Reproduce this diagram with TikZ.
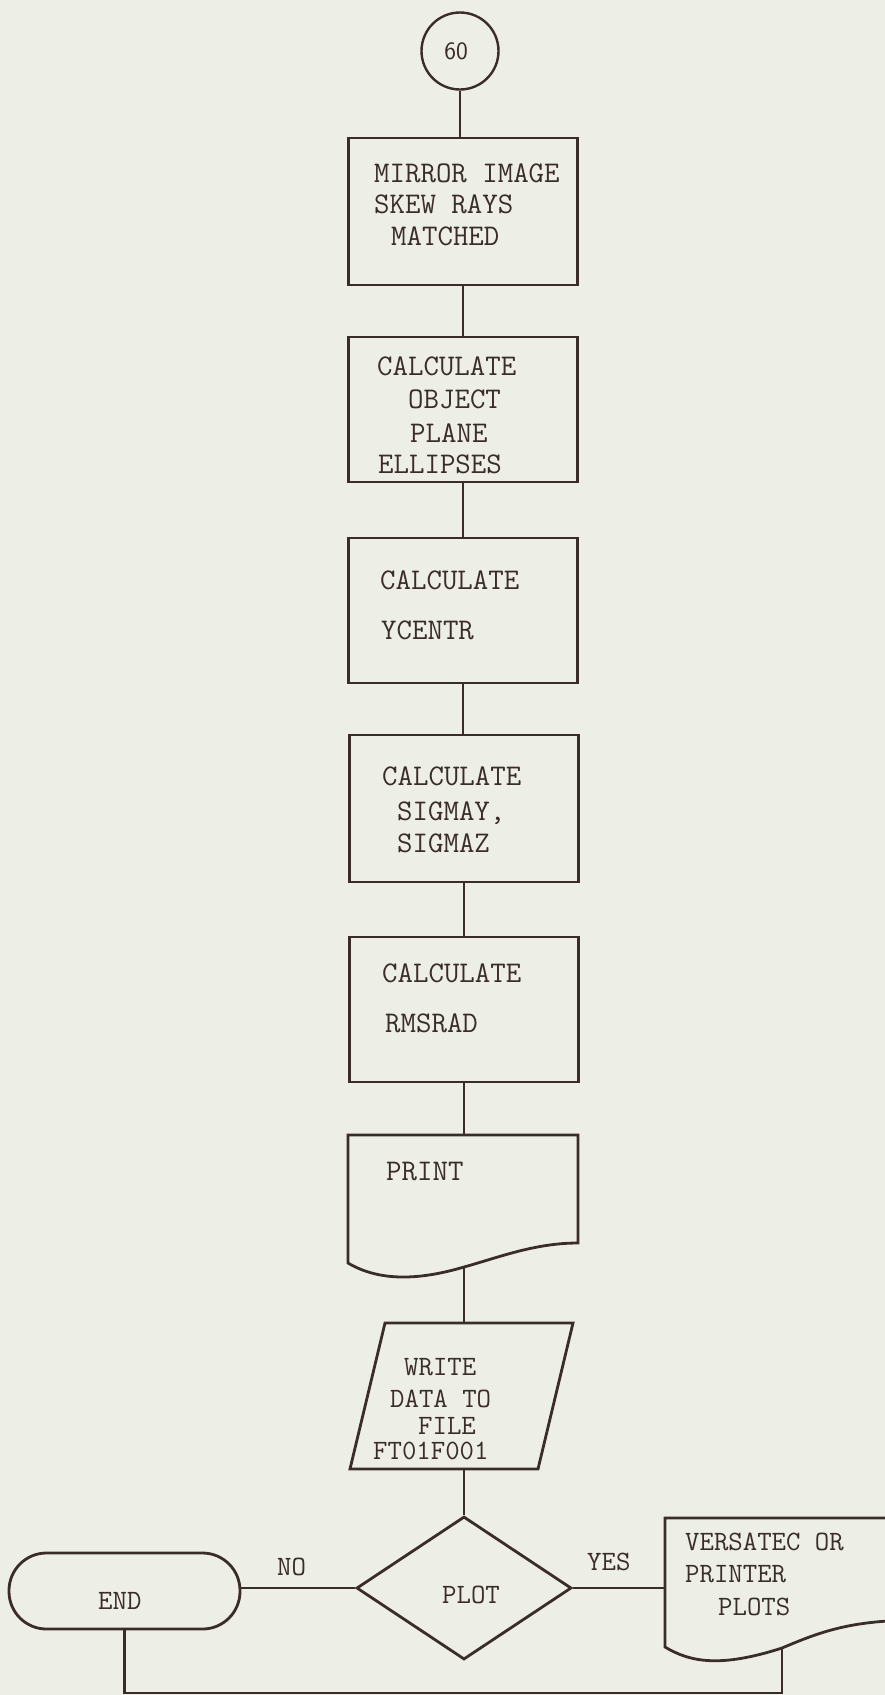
\documentclass[tikz,border=0pt]{standalone}
\usetikzlibrary{shapes.geometric}
\definecolor{bg}{HTML}{EDEEE6}
\definecolor{ink}{HTML}{3A2C2A}
\tikzset{
  box/.style={draw=ink, line width=2.8pt, rectangle, inner sep=0pt, minimum width=229pt},
  ghost/.style={rectangle, inner sep=0pt, outer sep=0pt},
  outline/.style={draw=ink, line width=2.8pt, line join=miter},
  conn/.style={draw=ink, line width=2.6pt},
  txt/.style={anchor=base west, inner sep=0pt, text=ink, font=\fontsize{30}{30}\selectfont\ttfamily},
  lbl/.style={anchor=base west, inner sep=0pt, text=ink, font=\fontsize{28}{28}\selectfont\ttfamily}
}
\begin{document}
\begin{tikzpicture}[x=1pt,y=-1pt]
\useasboundingbox (0,0) rectangle (885,1695);
\fill[bg] (0,0) rectangle (885,1695);
\clip (0,0) rectangle (885,1695);

% connector circle
\node[circle, draw=ink, line width=2.4pt, minimum size=77pt, inner sep=0pt,
      text=ink, font=\fontsize{25}{25}\selectfont\sffamily] (c60) at (460,51) {60\hspace*{8pt}};

% process boxes
\node[box, minimum height=147pt] (b1) at (463,211.5) {};
\node[box, minimum height=145pt] (b2) at (463,409.5) {};
\node[box, minimum height=145pt] (b3) at (463,610.5) {};
\node[box, minimum height=147pt] (b4) at (464,808.5) {};
\node[box, minimum height=145pt] (b5) at (464,1009.5) {};

% print document
\node[ghost, minimum width=230pt, minimum height=128pt] (prt) at (464,1199) {};
\draw[outline] (348,1263) -- (348,1135) -- (578,1135) -- (578,1243)
  .. controls (535,1243) and (500,1257) .. (464,1267)
  .. controls (420,1280) and (380,1282) .. (348,1263) -- cycle;
\coordinate (prtbot) at (464,1267);

% parallelogram
\node[ghost, minimum width=188pt, minimum height=146pt] (para) at (464,1396) {};
\draw[outline] (385,1323) -- (573,1323) -- (538,1469) -- (350,1469) -- cycle;

% decision
\node[diamond, draw=ink, line width=2.8pt, minimum width=215pt, minimum height=143pt,
      inner sep=0pt] (plot) at (464,1588) {};

% terminal
\node[rectangle, draw=ink, line width=2.8pt, rounded corners=37.5pt,
      minimum width=231pt, minimum height=76pt, inner sep=0pt] (endt) at (124.5,1591) {};

% versatec document
\node[ghost, minimum width=245pt, minimum height=129pt] (vers) at (787.5,1582.5) {};
\draw[outline] (665,1647) -- (665,1518) -- (920,1518) -- (920,1620)
  .. controls (850,1620) and (820,1632) .. (782,1648)
  .. controls (720,1668) and (690,1662) .. (665,1647) -- cycle;
\coordinate (versbot) at (782,1648);
\coordinate (botline) at (450,1693);

% connectors
\draw[conn] (c60.south) -- (c60.south |- b1.north);
\draw[conn] (b1.south) -- (b2.north);
\draw[conn] (b2.south) -- (b3.north);
\draw[conn] (b3.south) -- (b3.south |- b4.north);
\draw[conn] (b4.south) -- (b5.north);
\draw[conn] (b5.south) -- (prt.north);
\draw[conn] (prtbot) -- (para.north);
\draw[conn] (para.south) -- (plot.north);
\draw[conn] (plot.west) -- (plot.west -| endt.east);
\draw[conn] (plot.east) -- (plot.east -| vers.west);
\draw[conn] (endt.south) |- (botline) -| (versbot);

% texts
\node[txt] (t1a) at (374,182) {MIRROR IMAGE};
\node[txt] (t1b) at (374,213) {SKEW RAYS};
\node[txt] (t1c) at (391,245) {MATCHED};

\node[txt] (t2a) at (377,375) {CALCULATE};
\node[txt] (t2b) at (408,408) {OBJECT};
\node[txt] (t2c) at (410,442) {PLANE};
\node[txt] (t2d) at (378,473) {ELLIPSES};

\node[txt] (t3a) at (380,589) {CALCULATE};
\node[txt] (t3b) at (381,639) {YCENTR};

\node[txt] (t4a) at (382,785) {CALCULATE};
\node[txt] (t4b) at (397,820) {SIGMAY,};
\node[txt] (t4c) at (397,852) {SIGMAZ};

\node[txt] (t5a) at (382,982) {CALCULATE};
\node[txt] (t5b) at (385,1032) {RMSRAD};

\node[txt] (t6) at (386,1180) {PRINT};

\node[lbl] (t7a) at (404,1375) {WRITE};
\node[lbl] (t7b) at (390,1407) {DATA TO};
\node[lbl] (t7c) at (418,1434) {FILE};
\node[lbl] (t7d) at (373,1459) {FT01F001};

\node[lbl] (t8) at (442,1603) {PLOT};
\node[lbl] (t9) at (98,1609) {END};
\node[lbl] (t10) at (277,1575) {NO};
\node[lbl] (t11) at (587,1570) {YES};

\node[lbl] (t12a) at (685,1550) {VERSATEC OR};
\node[lbl] (t12b) at (685,1582) {PRINTER};
\node[lbl] (t12c) at (718,1615) {PLOTS};
\end{tikzpicture}
\end{document}
